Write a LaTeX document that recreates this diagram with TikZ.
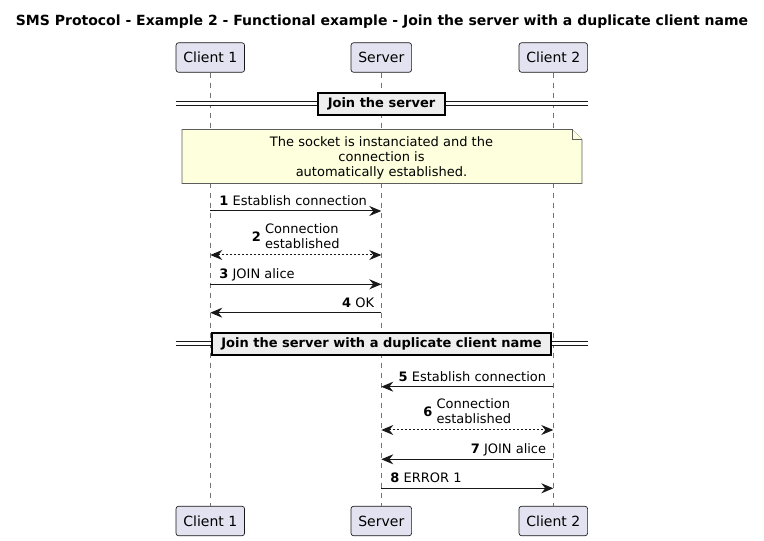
\documentclass[tikz,border=0pt]{standalone}
\usepackage{fontspec}
\setmainfont{DejaVu Sans}
\usetikzlibrary{arrows.meta,positioning,calc}

\definecolor{partfill}{HTML}{E2E2F0}
\definecolor{linecol}{HTML}{181818}
\definecolor{notefill}{HTML}{FEFFDD}
\definecolor{divfill}{HTML}{EEEEEE}

\tikzset{
  part/.style={draw=linecol, fill=partfill, rounded corners=2pt, line width=0.5pt,
    inner xsep=5.5pt, minimum height=22.2pt, font=\fontsize{10.5}{12.6}\selectfont},
  life/.style={draw=linecol!60, line width=0.5pt, dash pattern=on 3.75pt off 3.75pt},
  msg/.style={draw=linecol, line width=0.75pt, -{Stealth[length=9pt,width=7.5pt,inset=3pt]}},
  both/.style={draw=linecol, line width=0.75pt, dash pattern=on 1.5pt off 1.5pt,
    {Stealth[length=9pt,width=7.5pt,inset=3pt]}-{Stealth[length=9pt,width=7.5pt,inset=3pt]}},
  lbl/.style={inner sep=0pt, font=\fontsize{9.75}{11.25}\selectfont},
  notebox/.style={draw=linecol!70, fill=notefill, line width=0.5pt},
  sepline/.style={draw=linecol, double, double distance=2.25pt, line width=0.75pt},
  divider/.style={draw=black, fill=divfill, line width=1.5pt, inner xsep=7.2pt,
    minimum height=16.5pt, font=\bfseries\fontsize{9.75}{11.25}\selectfont},
}

\begin{document}
\begin{tikzpicture}[x=0.75pt,y=-0.75pt]
\useasboundingbox (0,0) rectangle (764,541);

\node[font=\bfseries\fontsize{10.5}{12.6}\selectfont] (title) at (382,22)
  {SMS Protocol - Example 2 - Functional example - Join the server with a duplicate client name};

% participants
\node[part] (c1top) at (210.3,57.5) {Client 1};
\node[part] (srvtop) at (381.3,57.5) {Server};
\node[part] (c2top) at (553.3,57.5) {Client 2};
\node[part] (c1bot) at (210.3,521) {Client 1};
\node[part] (srvbot) at (381.3,521) {Server};
\node[part] (c2bot) at (553.3,521) {Client 2};

\draw[life] (c1top) -- (c1bot);
\draw[life] (srvtop) -- (srvbot);
\draw[life] (c2top) -- (c2bot);

% section 1
\coordinate (s1) at (381.5,103.7);
\draw[sepline] (c1top.west |- s1) -- (c2top.east |- s1);
\node[divider] (sec1) at (s1) {Join the server};

\draw[notebox] (182,129.5) -- (572,129.5) -- (582,139.5) -- (582,183.5) -- (182,183.5) -- cycle;
\draw[notebox] (572,129.5) -- (572,139.5) -- (582,139.5);
\node[lbl, align=center] (note) at (381.5,157.5)
  {The socket is instanciated and the\\connection is\\automatically established.};

\foreach \n/\y in {1/211,2/255,3/284.3,4/312.7,5/386.7,6/430,7/459.3,8/488.3}
  \coordinate (m\n) at (0,\y);

\draw[msg] (c1top |- m1) -- node[lbl, at start, anchor=base west, xshift=6.5pt, yshift=4pt]
  {\textbf{1} Establish connection} (srvtop |- m1);
\draw[both] (c1top |- m2) -- node[lbl, midway, anchor=south, yshift=1pt]
  {\textbf{2} \begin{tabular}{@{}l@{}}Connection\\established\end{tabular}} (srvtop |- m2);
\draw[msg] (c1top |- m3) -- node[lbl, at start, anchor=base west, xshift=6.5pt, yshift=4pt]
  {\textbf{3} JOIN alice} (srvtop |- m3);
\draw[msg] (srvtop |- m4) -- node[lbl, at start, anchor=base east, xshift=-5pt, yshift=4pt]
  {\textbf{4} OK} (c1top |- m4);

% section 2
\coordinate (s2) at (381.5,343.7);
\draw[sepline] (c1top.west |- s2) -- (c2top.east |- s2);
\node[divider] (sec2) at (s2) {Join the server with a duplicate client name};

\draw[msg] (c2top |- m5) -- node[lbl, at start, anchor=base east, xshift=-5pt, yshift=4pt]
  {\textbf{5} Establish connection} (srvtop |- m5);
\draw[both] (srvtop |- m6) -- node[lbl, midway, anchor=south, yshift=1pt]
  {\textbf{6} \begin{tabular}{@{}l@{}}Connection\\established\end{tabular}} (c2top |- m6);
\draw[msg] (c2top |- m7) -- node[lbl, at start, anchor=base east, xshift=-5pt, yshift=4pt]
  {\textbf{7} JOIN alice} (srvtop |- m7);
\draw[msg] (srvtop |- m8) -- node[lbl, at start, anchor=base west, xshift=6.5pt, yshift=4pt]
  {\textbf{8} ERROR 1} (c2top |- m8);
\end{tikzpicture}
\end{document}
